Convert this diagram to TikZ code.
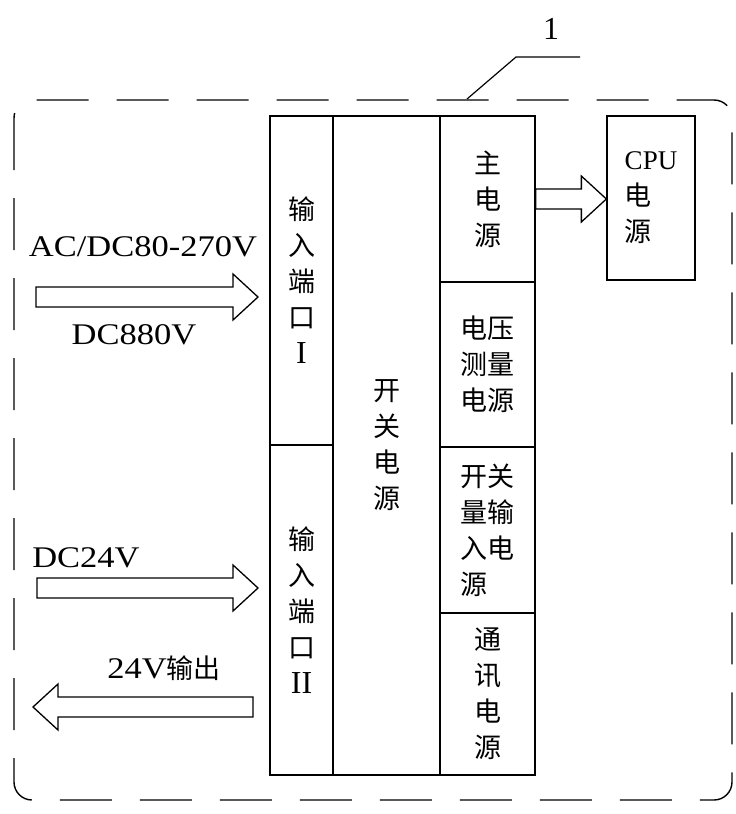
\documentclass[tikz,border=0pt]{standalone}
\usepackage{fontspec}
\setmainfont{Liberation Serif}[FakeStretch=1.15]
\newfontfamily\latplain{Liberation Serif}
\newfontfamily\cjk{Noto Sans CJK SC}
\usetikzlibrary{calc}
\newcommand\lat[1]{{\latplain #1}}
\begin{document}
\begin{tikzpicture}[x=1pt,y=-1pt,
  line width=1.3pt,
  box/.style={draw, line width=1.3pt, inner sep=0pt, align=center,
    font=\cjk\fontsize{27}{36}\selectfont},
  lab/.style={inner sep=0pt, font=\fontsize{30}{30}\selectfont},
  frame/.style={draw, line width=1.4pt, rounded corners=18pt, dash pattern=on 52pt off 28pt},
  rarrow/.style={to path={let \p1=(\tikztostart), \p2=(\tikztotarget) in
     (\x1,\y1+10pt) -- (\x2-25pt,\y1+10pt) -- (\x2-25pt,\y1+23pt) -- (\x2,\y1)
     -- (\x2-25pt,\y1-23pt) -- (\x2-25pt,\y1-10pt) -- (\x1,\y1-10pt) -- cycle}},
  larrow/.style={to path={let \p1=(\tikztostart), \p2=(\tikztotarget) in
     (\x1,\y1+10pt) -- (\x2+25pt,\y1+10pt) -- (\x2+25pt,\y1+23pt) -- (\x2,\y1)
     -- (\x2+25pt,\y1-23pt) -- (\x2+25pt,\y1-10pt) -- (\x1,\y1-10pt) -- cycle}},
]
\useasboundingbox (0,0) rectangle (736,814);

% outer dashed frame
\draw[frame] (14,100) rectangle (732,800);

% label 1 with leader
\node[inner sep=0pt, font=\latplain\fontsize{32}{32}\selectfont] (one) at (551,29) {1};
\coordinate (l0) at (467,99);
\coordinate (l1) at (516,57);
\coordinate (l2) at (580,57);
\draw[line width=1.2pt] (l0) -- (l1) -- (l2);

% input ports
\node[box, minimum width=63pt, minimum height=329pt] (in1) at (301.5,280.5)
  {输\\入\\端\\口\\\lat{\fontsize{32}{36}\selectfont I}};
\node[box, minimum width=63pt, minimum height=330pt] (in2) at (301.5,610)
  {输\\入\\端\\口\\\lat{\fontsize{32}{36}\selectfont II}};

% switching power supply
\node[box, minimum width=107pt, minimum height=659pt] (sw) at (386.5,445.5)
  {开\\关\\电\\源};

% right column
\node[box, minimum width=95pt, minimum height=166pt] (main) at (487.5,199)
  {主\\电\\源};
\node[box, minimum width=95pt, minimum height=165pt] (volt) at (487.5,364.5)
  {电压\\测量\\电源};
\node[box, minimum width=95pt, minimum height=166pt, align=left] (dio) at (487.5,530)
  {开关\\量输\\入电\\源};
\node[box, minimum width=95pt, minimum height=162pt] (comm) at (487.5,694)
  {通\\讯\\电\\源};

% CPU power
\node[box, minimum width=88pt, minimum height=164pt, align=left] (cpu) at (651,198)
  {\lat{\fontsize{27}{36}\selectfont CPU}\\电\\源};

% labels
\node[lab] (t1) at (143,247) {AC/DC80-270V};
\node[lab] (t2) at (134,335) {DC880V};
\node[lab] (t3) at (86,558) {DC24V};
\node[lab] (t4) at (164,668) {24V{\cjk\fontsize{27}{30}\selectfont 输出}};

% arrows
\coordinate (a1s) at (36,297);  \coordinate (a1e) at (258,297);
\coordinate (a2s) at (37,588);  \coordinate (a2e) at (258,588);
\coordinate (a3s) at (253,707); \coordinate (a3e) at (33,707);
\draw (a1s) to[rarrow] (a1e);
\draw (a2s) to[rarrow] (a2e);
\draw (a3s) to[larrow] (a3e);
\draw (main.east) to[rarrow] (cpu.west);
\end{tikzpicture}
\end{document}
